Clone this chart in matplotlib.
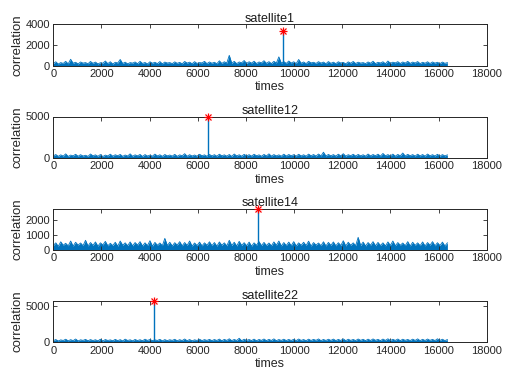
import numpy as np
import matplotlib
matplotlib.use("Agg")
import matplotlib.pyplot as plt

plt.rcParams['font.family'] = ['Liberation Sans', 'DejaVu Sans']

titles = ["satellite1", "satellite12", "satellite14", "satellite22"]
n_samples = 16368

# estimated upper envelope of the correlation noise (160 points each)
env1 = [200, 380, 160, 300, 220, 420, 180, 620, 240, 330, 170, 360, 250, 300, 190, 410,
        230, 350, 170, 290, 240, 450, 200, 380, 160, 330, 260, 600, 210, 340, 180, 300,
        250, 360, 190, 420, 220, 310, 170, 380, 240, 330, 200, 400, 180, 350, 260, 300,
        200, 370, 230, 320, 180, 410, 250, 340, 190, 390, 220, 300, 270, 420, 200, 360,
        240, 330, 190, 470, 220, 380, 260, 1000, 230, 420, 200, 360, 280, 500, 220, 380,
        250, 430, 210, 360, 270, 480, 230, 390, 200, 420, 260, 850, 240, 400, 220, 450,
        260, 380, 210, 600, 240, 360, 200, 420, 270, 330, 220, 390, 250, 350, 190, 400,
        230, 340, 200, 380, 260, 320, 180, 370, 240, 410, 210, 340, 250, 300, 200, 360,
        240, 430, 200, 330, 260, 380, 190, 450, 230, 340, 270, 390, 210, 360, 250, 420,
        220, 350, 260, 400, 200, 330, 240, 380, 210, 360, 250, 330, 200, 350, 230, 300]
env2 = [250, 420, 200, 380, 230, 500, 190, 350, 260, 450, 210, 400, 240, 330, 200, 480,
        260, 380, 210, 420, 180, 350, 250, 460, 220, 390, 270, 430, 200, 360, 240, 500,
        210, 380, 260, 430, 190, 410, 240, 350, 220, 470, 250, 390, 200, 420, 260, 360,
        230, 440, 200, 380, 260, 520, 210, 400, 240, 360, 220, 450, 270, 380, 210, 430,
        250, 400, 220, 460, 260, 380, 230, 420, 200, 480, 250, 390, 220, 440, 260, 400,
        230, 450, 270, 380, 210, 430, 250, 500, 230, 410, 260, 380, 220, 460, 240, 420,
        270, 400, 230, 450, 250, 390, 220, 470, 260, 420, 230, 480, 250, 700, 240, 430,
        260, 410, 230, 460, 250, 520, 220, 400, 270, 450, 240, 430, 260, 390, 230, 480,
        250, 420, 270, 460, 230, 550, 260, 410, 240, 470, 220, 430, 260, 600, 240, 440,
        270, 410, 230, 460, 250, 420, 220, 480, 260, 400, 240, 450, 220, 410, 250, 380]
env3 = [300, 480, 250, 550, 320, 450, 280, 600, 260, 520, 330, 470, 290, 650, 270, 500,
        310, 540, 260, 480, 340, 580, 280, 450, 300, 520, 260, 600, 320, 480, 290, 540,
        280, 500, 330, 560, 270, 480, 300, 620, 260, 510, 320, 470, 290, 780, 300, 520,
        270, 490, 330, 560, 280, 500, 310, 600, 260, 470, 300, 530, 280, 480, 320, 550,
        290, 500, 260, 540, 320, 480, 280, 650, 300, 520, 270, 580, 310, 490, 290, 530,
        260, 480, 320, 560, 290, 510, 300, 470, 280, 540, 320, 600, 270, 500, 300, 530,
        290, 560, 270, 480, 320, 520, 300, 590, 260, 500, 330, 470, 290, 550, 270, 510,
        310, 540, 280, 490, 300, 620, 270, 520, 320, 480, 290, 850, 300, 530, 270, 500,
        320, 560, 280, 510, 300, 480, 270, 540, 310, 600, 280, 500, 320, 470, 290, 560,
        270, 520, 310, 480, 290, 540, 270, 500, 320, 560, 280, 490, 300, 530, 270, 480]
env4 = [220, 380, 180, 330, 250, 420, 200, 360, 230, 450, 190, 340, 260, 400, 210, 370,
        240, 350, 200, 420, 180, 380, 250, 330, 210, 400, 230, 360, 190, 430, 250, 340,
        200, 390, 240, 350, 210, 420, 260, 380, 220, 340, 250, 400, 200, 370, 230, 350,
        260, 410, 210, 360, 240, 450, 220, 380, 200, 340, 250, 420, 230, 370, 260, 400,
        230, 380, 250, 440, 210, 400, 260, 480, 230, 390, 250, 550, 220, 420, 260, 380,
        240, 430, 210, 390, 260, 450, 230, 400, 250, 470, 220, 380, 260, 420, 240, 390,
        250, 410, 230, 450, 260, 380, 220, 430, 250, 400, 270, 460, 230, 390, 250, 420,
        260, 440, 230, 400, 250, 470, 220, 420, 260, 390, 240, 450, 270, 410, 230, 430,
        250, 460, 270, 400, 230, 440, 260, 480, 240, 410, 260, 450, 230, 420, 270, 390,
        240, 430, 260, 470, 230, 410, 250, 450, 270, 400, 240, 480, 260, 420, 230, 380]
envelopes = [env1, env2, env3, env4]

peak_x = [9527, 6441, 8516, 4189]
peak_y = [3300, 4950, 2780, 5680]

ylims = [4000, 5000, 2780, 5680]
yticks = [[0, 2000, 4000], [0, 5000], [0, 1000, 2000], [0, 5000]]
xticks = [0, 2000, 4000, 6000, 8000, 10000, 12000, 14000, 16000, 18000]

line_color = '#0072BD'

fig = plt.figure(figsize=(5.18, 3.88), dpi=100)
fig.patch.set_facecolor('white')

bottoms_px = [65.7, 158.0, 250.0, 342.3]
H = 388.0
W = 518.0
left = 53.3 / W
width = 433.4 / W
height = 41.5 / H

for i in range(4):
    b = 1 - bottoms_px[i] / H
    ax = fig.add_axes([left, b, width, height])
    env = envelopes[i]
    x = np.linspace(0, n_samples - 1, len(env))
    ax.fill_between(x, 0, env, color=line_color, linewidth=0)
    ax.plot(x, env, color=line_color, linewidth=0.6)
    ax.vlines([peak_x[i]], 0, [peak_y[i]], color=line_color, linewidth=1.0)
    ax.plot([peak_x[i]], [peak_y[i]], marker='+', color='red', markersize=6,
            markeredgewidth=0.9, clip_on=False, zorder=5)
    ax.plot([peak_x[i]], [peak_y[i]], marker='x', color='red', markersize=4.5,
            markeredgewidth=0.9, clip_on=False, zorder=5)
    ax.set_xlim(0, 18000)
    ax.set_ylim(0, ylims[i])
    ax.set_xticks(xticks)
    ax.set_yticks(yticks[i])
    ax.tick_params(direction='in', length=3, width=0.6, top=True, right=True,
                   labelsize=8, pad=2.5, colors='#262626')
    for s in ax.spines.values():
        s.set_linewidth(0.7)
        s.set_color('#262626')
    ax.set_title(titles[i], fontsize=9, pad=1.5, color='#1a1a1a')
    ax.set_xlabel("times", fontsize=9, labelpad=1.5, color='#262626')
    ax.set_ylabel("correlation", fontsize=9.5, labelpad=1, color='#262626')

fig.savefig("out.png", dpi=100, facecolor='white')
